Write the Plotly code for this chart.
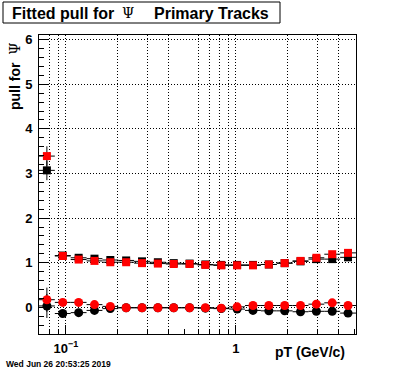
import plotly.graph_objects as go

# ---------------- data ----------------
pt_edges = [0.06938, 0.08598, 0.10659, 0.13212, 0.16377, 0.20294, 0.25155,
            0.31189, 0.38649, 0.47918, 0.59388, 0.73607, 0.91231, 1.1307,
            1.4013, 1.7370, 2.1528, 2.6689, 3.3083, 4.1002, 5.0823]
pt_centers = [0.0772, 0.0957, 0.1187, 0.1471, 0.1823, 0.2259, 0.2801, 0.3472,
              0.4303, 0.5333, 0.6610, 0.8194, 1.0155, 1.2589, 1.5606, 1.9337,
              2.3971, 2.9717, 3.6832, 4.5625]

width_black = [3.07, 1.16, 1.11, 1.09, 1.06, 1.05, 1.03, 1.01, 0.99, 0.98,
               0.96, 0.95, 0.95, 0.95, 0.96, 0.99, 1.03, 1.08, 1.08, 1.12]
width_red = [3.39, 1.15, 1.07, 1.04, 1.01, 1.01, 0.99, 0.98, 0.97, 0.97,
             0.95, 0.94, 0.94, 0.94, 0.96, 0.99, 1.04, 1.11, 1.19, 1.22]
mean_black = [0.03, -0.14, -0.12, -0.07, -0.03, -0.01, -0.01, -0.01, -0.01, -0.01,
              -0.02, -0.03, -0.04, -0.07, -0.08, -0.08, -0.10, -0.09, -0.09, -0.13]
mean_red = [0.17, 0.11, 0.11, 0.06, 0.02, -0.01, -0.01, -0.01, -0.01, -0.01,
            -0.01, -0.02, 0.01, 0.04, 0.04, 0.04, 0.04, 0.07, 0.10, 0.04]
err_width = [0.22, 0.03, 0.02, 0.02, 0.02, 0.02, 0.02, 0.02, 0.02, 0.02,
             0.02, 0.02, 0.02, 0.02, 0.03, 0.03, 0.03, 0.04, 0.05, 0.06]
err_mean = [0.27, 0.03, 0.02, 0.02, 0.02, 0.02, 0.02, 0.02, 0.02, 0.02,
            0.02, 0.02, 0.02, 0.02, 0.03, 0.03, 0.03, 0.04, 0.05, 0.06]

x_major = [0.1, 1]
x_major_text = ["10<sup>\u22121</sup>", "1"]
x_minor = [0.07, 0.08, 0.09, 0.2, 0.3, 0.4, 0.5, 0.6, 0.7, 0.8, 0.9, 2, 3, 4, 5]
x_grid = [0.08, 0.09, 0.1, 0.2, 0.3, 0.4, 0.6, 0.7, 0.8, 0.9, 1, 2, 3, 4]
y_major = [0, 1, 2, 3, 4, 5, 6]

# ---------------- layout geometry ----------------
W, H = 396, 372
L, R, T, B = 39, 356, 35, 334   # frame in pixels


def px(x):
    return (x - L) / (R - L)


def py(y):
    return (B - y) / (B - T)


xlo = [c - e for c, e in zip(pt_centers, pt_edges[:-1])]
xhi = [e - c for c, e in zip(pt_centers, pt_edges[1:])]

FONT = "Liberation Sans"
fig = go.Figure()


def add(yvals, errs, symbol, color, size):
    fig.add_trace(go.Scatter(
        x=pt_centers, y=yvals, mode="markers",
        marker=dict(symbol=symbol, color=color, size=size, line=dict(width=0)),
        error_x=dict(type="data", symmetric=False, array=xhi, arrayminus=xlo,
                     color="black", thickness=1, width=0),
        error_y=dict(type="data", array=errs, color="black", thickness=1, width=0),
        showlegend=False, cliponaxis=True, hoverinfo="skip"))


add(width_black, err_width, "square", "black", 8)
add(mean_black, err_mean, "circle", "black", 9)
add(width_red, err_width, "square", "#ff0000", 8)
add(mean_red, err_mean, "circle", "#ff0000", 9)

# empty trace to carry the grid axis
fig.add_trace(go.Scatter(x=[], y=[], xaxis="x2", showlegend=False))

xrange = [-1.1588, 0.7061]
yrange = [-0.599, 6.105]
dash = "1px,2px"

fig.update_layout(
    width=W, height=H,
    margin=dict(l=L, r=W - R, t=T, b=H - B, pad=0),
    paper_bgcolor="white", plot_bgcolor="white",
    font=dict(family=FONT, color="black"),
    xaxis=dict(type="log", range=xrange, showgrid=False, zeroline=False,
               showline=True, mirror=True, linecolor="black", linewidth=1,
               tickmode="array", tickvals=x_major, ticktext=x_major_text,
               ticks="inside", ticklen=9, tickcolor="black", tickwidth=1,
               tickfont=dict(family=FONT, size=13, weight="bold"),
               ticklabelstandoff=2,
               minor=dict(tickmode="array", tickvals=x_minor, ticks="inside",
                          ticklen=5, tickcolor="black", tickwidth=1, showgrid=False)),
    xaxis2=dict(type="log", range=xrange, overlaying="x", side="top",
                showgrid=True, gridcolor="black", gridwidth=1, griddash=dash,
                tickmode="array", tickvals=x_grid, ticks="", showticklabels=False,
                zeroline=False, showline=False),
    yaxis=dict(range=yrange, showgrid=True, gridcolor="black", gridwidth=1,
               griddash=dash, zeroline=False,
               showline=True, mirror=True, linecolor="black", linewidth=1,
               tickmode="array", tickvals=y_major,
               ticks="inside", ticklen=9, tickcolor="black", tickwidth=1,
               tickfont=dict(family=FONT, size=13, weight="bold"),
               ticklabelstandoff=3,
               minor=dict(dtick=0.2, ticks="inside", ticklen=5,
                          tickcolor="black", tickwidth=1, showgrid=False)),
)

psi = '<span style="font-family:DejaVu Serif;font-weight:normal">\u03a8</span>'

ann = [
    dict(text="<b>Fitted pull for</b>", x=px(10), y=py(13), xanchor="left",
         yanchor="middle", font=dict(size=16, family=FONT)),
    dict(text="\u03a8", x=px(128), y=py(13), xanchor="center", yanchor="middle",
         font=dict(size=14, family="DejaVu Serif")),
    dict(text="<b>Primary Tracks</b>", x=px(152), y=py(13), xanchor="left",
         yanchor="middle", font=dict(size=16, family=FONT)),
    dict(text="<b>pT (GeV/c)</b>", x=px(347), y=py(352), xanchor="right",
         yanchor="middle", font=dict(size=14, family=FONT)),
    dict(text="<b>pull for</b>&nbsp;&nbsp;" + psi, x=px(15), y=py(40),
         xanchor="center", yanchor="top", textangle=-90,
         font=dict(size=14, family=FONT)),
    dict(text="<b>Wed Jun 26 20:53:25 2019</b>", x=px(4), y=py(364),
         xanchor="left", yanchor="middle", font=dict(size=8.5, family=FONT)),
]
for a in ann:
    a.update(xref="paper", yref="paper", showarrow=False)
fig.update_layout(annotations=ann)

fig.add_shape(type="rect", xref="paper", yref="paper",
              x0=px(3), x1=px(280), y0=py(2), y1=py(23),
              line=dict(color="black", width=1), fillcolor="rgba(0,0,0,0)")

fig.write_html("out.html",
               config={"displayModeBar": False, "staticPlot": True},
               post_script="document.body.style.margin='0';"
                           "document.body.style.overflow='hidden';")
